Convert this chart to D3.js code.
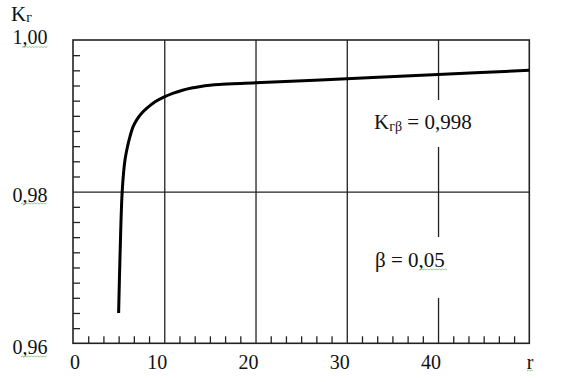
<!DOCTYPE html>
<html>
<head>
<meta charset="utf-8">
<script src="https://cdn.jsdelivr.net/npm/d3@7"></script>
<style>
  html, body { margin: 0; padding: 0; background: #fff; }
  svg { display: block; }
</style>
</head>
<body>
<svg id="chart" width="563" height="382"></svg>
<script>
// ---- data ----
const rValues  = [5.0, 5.15, 5.4, 5.7, 6.0, 6.25, 6.6, 7.0, 7.5, 8.1, 9.0, 10.0, 11.0, 12.0, 13.0, 14.0, 15.0, 16.0, 20.0, 30.0, 40.0, 50.0];
const kValues  = [0.9640, 0.9714, 0.9802, 0.9842, 0.9861, 0.9873, 0.9886, 0.9895, 0.9903, 0.9910, 0.99185, 0.9925, 0.9930, 0.99338, 0.99366, 0.99388, 0.99403, 0.99413, 0.99435, 0.9949, 0.99545, 0.9960];
const xTickValues = [0, 10, 20, 30, 40];
const xTickLabels = ["0", "10", "20", "30", "40"];
const yTickValues = [0.96, 0.98, 1.00];
const yTickLabels = ["0,96", "0,98", "1,00"];
const xGridValues = [10, 20, 30, 40];
const yGridValues = [0.98];
const axisTitleY = ["K", "г"];
const axisTitleX = "r";
const noteK = ["K", "гβ", " = 0,998"];
const noteBeta = "β = 0,05";

// ---- layout ----
const mLeft = 73, mTop = 40, mRight = 529.3, mBottom = 343.3;
const svg = d3.select("#chart");
const x = d3.scaleLinear().domain([0, 50]).range([mLeft, mRight]);
const y = d3.scaleLinear().domain([0.96, 1.00]).range([mBottom, mTop]);
const ink = "#222";

// minor ticks
const xMinor = d3.range(1, 30).filter(k => k % 6 !== 0).map(k => k * 10 / 6);
const yMinor = d3.range(1, 20).filter(k => k !== 10).map(k => 0.96 + k * 0.002);

// grid lines
svg.append("g").attr("transform", `translate(0,${mBottom})`)
  .call(d3.axisBottom(x).tickValues(xGridValues).tickSize(-(mBottom - mTop)).tickFormat(""))
  .call(g => g.select(".domain").remove())
  .call(g => g.selectAll("line").attr("stroke", ink).attr("stroke-width", 1.3));
svg.append("g").attr("transform", `translate(${mLeft},0)`)
  .call(d3.axisLeft(y).tickValues(yGridValues).tickSize(-(mRight - mLeft)).tickFormat(""))
  .call(g => g.select(".domain").remove())
  .call(g => g.selectAll("line").attr("stroke", ink).attr("stroke-width", 1.3));

// minor ticks (inward)
svg.append("g").attr("transform", `translate(0,${mBottom})`)
  .call(d3.axisBottom(x).tickValues(xMinor).tickSize(-7).tickFormat(""))
  .call(g => g.select(".domain").remove())
  .call(g => g.selectAll("line").attr("stroke", ink).attr("stroke-width", 1.3));
svg.append("g").attr("transform", `translate(${mLeft},0)`)
  .call(d3.axisLeft(y).tickValues(yMinor).tickSize(-7).tickFormat(""))
  .call(g => g.select(".domain").remove())
  .call(g => g.selectAll("line").attr("stroke", ink).attr("stroke-width", 1.3));

// white boxes behind annotations
svg.append("rect").attr("x", 365).attr("y", 100).attr("width", 120).attr("height", 47).attr("fill", "#fff");
svg.append("rect").attr("x", 365).attr("y", 237).attr("width", 120).attr("height", 61).attr("fill", "#fff");

// frame
svg.append("rect").attr("x", mLeft).attr("y", mTop)
  .attr("width", mRight - mLeft).attr("height", mBottom - mTop)
  .attr("fill", "none").attr("stroke", ink).attr("stroke-width", 1.6);

// curve
const pts = rValues.map((r, i) => [r, kValues[i]]);
svg.append("path").datum(pts)
  .attr("fill", "none").attr("stroke", "#000").attr("stroke-width", 3)
  .attr("stroke-linejoin", "round")
  .attr("d", d3.line().x(d => x(d[0])).y(d => y(d[1])).curve(d3.curveCatmullRom.alpha(0.5)));

const labels = svg.append("g").attr("font-family", "Liberation Serif").attr("fill", "#111");

// x tick labels
labels.append("g").selectAll("text").data(xTickValues).join("text")
  .attr("x", (d) => x(d) + (d === 0 ? 7 : 3))
  .attr("y", 368.5)
  .attr("text-anchor", "end")
  .attr("font-size", 20)
  .text((d, i) => xTickLabels[i]);
labels.append("text").attr("x", 530).attr("y", 368.5).attr("text-anchor", "middle")
  .attr("font-size", 20).text(axisTitleX);

// y tick labels
const yLabelBase = [353.5, 202, 44];
labels.append("g").selectAll("text").data(yTickValues).join("text")
  .attr("x", 47.5)
  .attr("y", (d, i) => yLabelBase[i])
  .attr("text-anchor", "end")
  .attr("font-size", 20)
  .text((d, i) => yTickLabels[i]);

// y title
const ty = labels.append("text").attr("x", 11).attr("y", 21).attr("font-size", 21);
ty.append("tspan").text(axisTitleY[0]);
ty.append("tspan").attr("font-size", 14).attr("dy", 1).text(axisTitleY[1]);

// annotations
const t1 = labels.append("text").attr("x", 374).attr("y", 128.5).attr("font-size", 21);
t1.append("tspan").text(noteK[0]);
t1.append("tspan").attr("font-size", 14).attr("dy", 2).text(noteK[1]);
t1.append("tspan").attr("dy", -2).text(noteK[2]);
labels.append("text").attr("x", 375).attr("y", 266.5).attr("font-size", 21).text(noteBeta);

svg.selectAll("text").attr("font-family", "Liberation Serif").style("font-family", '"Liberation Serif"');

// spell-check squiggles (decorative)
function squiggle(x0, x1, yy) {
  const p = d3.path();
  p.moveTo(x0, yy);
  let up = true;
  for (let xx = x0 + 1.5; xx <= x1; xx += 1.5) { p.lineTo(xx, yy + (up ? -1 : 0)); up = !up; }
  svg.append("path").attr("d", p.toString()).attr("fill", "none")
    .attr("stroke", "#8cc48c").attr("stroke-width", 0.9);
}
squiggle(22, 48, 47.5);
squiggle(21, 47, 204);
squiggle(21, 47, 357);
squiggle(420, 447, 270);
squiggle(527, 534, 371);
</script>
</body>
</html>
